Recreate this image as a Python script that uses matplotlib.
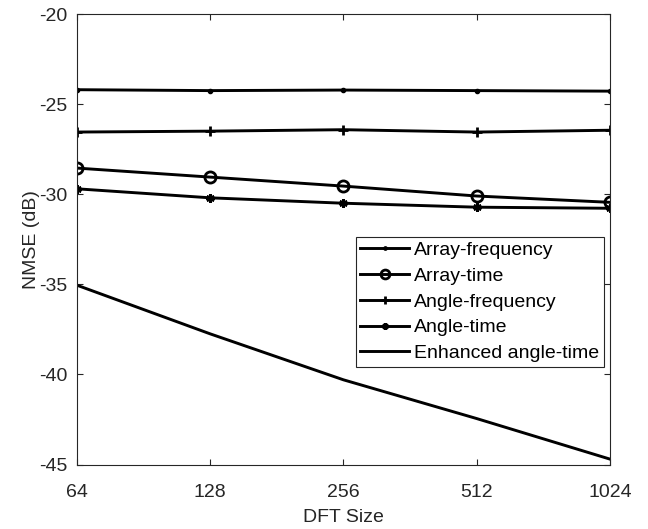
import matplotlib.pyplot as plt
import numpy as np

plt.rcParams['font.family'] = ['Liberation Sans', 'DejaVu Sans']
plt.rcParams['axes.unicode_minus'] = False

# DFT sizes and NMSE (dB) for each method
dft_size = [64, 128, 256, 512, 1024]
array_freq = [-24.2, -24.25, -24.22, -24.25, -24.28]
array_time = [-28.55, -29.05, -29.55, -30.1, -30.45]
angle_freq = [-26.55, -26.5, -26.42, -26.55, -26.45]
angle_time = [-29.7, -30.2, -30.5, -30.72, -30.78]
enhanced_angle_time = [-35.05, -37.75, -40.3, -42.45, -44.7]

fig = plt.figure(figsize=(6.48, 5.29), dpi=100)
ax = fig.add_axes([0.1188, 0.1219, 0.8225, 0.8516])

lw = 2.1
ax.plot(dft_size, array_freq, color='k', lw=lw, marker='.', ms=6, label='Array-frequency')
ax.plot(dft_size, array_time, color='k', lw=lw, marker='o', ms=8, mfc='none', mew=2, label='Array-time')
ax.plot(dft_size, angle_freq, color='k', lw=lw, marker='+', ms=7, mew=2, label='Angle-frequency')
ax.plot(dft_size, angle_time, color='k', lw=lw, marker=(6, 2, 0), ms=6, mew=2, label='Angle-time')
ax.plot(dft_size, enhanced_angle_time, color='k', lw=lw, label='Enhanced angle-time')

ax.set_xscale('log', base=2)
ax.set_xlim(64, 1024)
ax.set_ylim(-45, -20)
ax.set_xticks(dft_size)
ax.set_xticklabels([str(v) for v in dft_size])
ax.minorticks_off()
ax.set_yticks(np.arange(-45, -19, 5))

ax.tick_params(direction='in', top=True, right=True, labelsize=14,
               colors='#262626', length=4, width=0.8)
ax.tick_params(axis='x', pad=14)
ax.tick_params(axis='y', pad=7)
for s in ax.spines.values():
    s.set_color('#262626')
    s.set_linewidth(0.8)

ax.set_xlabel('DFT Size', fontsize=14, color='#262626', labelpad=6)
ax.set_ylabel('NMSE (dB)', fontsize=14, color='#262626', labelpad=-1)

leg = ax.legend(loc='lower right', bbox_to_anchor=(0.9887, 0.2164), borderaxespad=0,
                fancybox=False, edgecolor='#262626', fontsize=14, framealpha=1,
                handlelength=2.5, handletextpad=0.25, labelspacing=0.42, borderpad=0.25,
                markerscale=0.8)
leg.get_frame().set_linewidth(0.8)

fig.savefig('out.png', dpi=100)
